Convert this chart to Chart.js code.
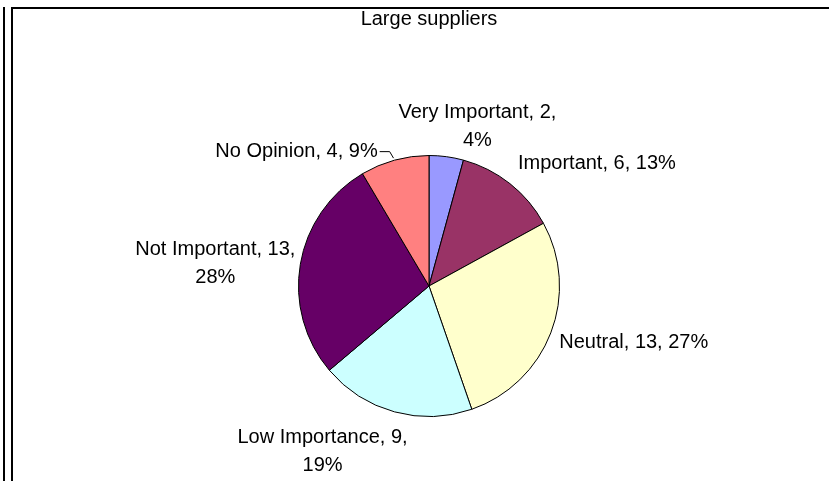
<!DOCTYPE html>
<html>
<head>
<meta charset="utf-8">
<script src="https://cdn.jsdelivr.net/npm/chart.js@4/dist/chart.umd.min.js"></script>
<style>
  html, body { margin: 0; padding: 0; background: #fff; overflow: hidden; }
  #wrap { position: relative; width: 829px; height: 481px; }
  #outer { position: absolute; left: 3px; top: 7px; width: 2px; height: 480px; background: #000; }
  #frame { position: absolute; left: 11px; top: 7px; width: 900px; height: 600px; border: 2px solid #000; box-sizing: border-box; }
  canvas { position: absolute; left: 0; top: 0; }
</style>
</head>
<body>
<div id="wrap">
  <div id="outer"></div>
  <div id="frame"></div>
  <canvas id="c" width="829" height="481"></canvas>
</div>
<script>
// ---- data ----
const title = "Large suppliers";
const categories = ["Very Important", "Important", "Neutral", "Low Importance", "Not Important", "No Opinion"];
const counts = [2, 6, 13, 9, 13, 4];
const percentLabels = ["4%", "13%", "27%", "19%", "28%", "9%"];
const colors = ["#9999FF", "#993366", "#FFFFCC", "#CCFFFF", "#660066", "#FF8080"];

// label layout (offset of first-line baseline centre from the arc's mid-point on its rim)
const labelLines = [
  ["Very Important, 2,", "4%"],
  ["Important, 6, 13%"],
  ["Neutral, 13, 27%"],
  ["Low Importance, 9,", "19%"],
  ["Not Important, 13,", "28%"],
  ["No Opinion, 4, 9%"]
];
const labelOffsets = [[31, -39], [87, -15], [83, 15], [-72, 31], [-85, -9], [-98, -3]];
const leaderFor = [false, false, false, false, false, true];

const FONT = '20px "Liberation Sans", Arial, sans-serif';
const LINE_H = 28;

const labelPlugin = {
  id: 'pieLabels',
  afterDatasetsDraw(chart) {
    const ctx = chart.ctx;
    const meta = chart.getDatasetMeta(0);
    ctx.save();
    ctx.font = FONT;
    ctx.fillStyle = '#000';
    ctx.textAlign = 'center';
    ctx.textBaseline = 'alphabetic';
    meta.data.forEach((arc, i) => {
      const p = arc.getProps(['x', 'y', 'startAngle', 'endAngle', 'outerRadius'], true);
      const mid = (p.startAngle + p.endAngle) / 2;
      const ax = p.x + Math.cos(mid) * p.outerRadius;
      const ay = p.y + Math.sin(mid) * p.outerRadius;
      const bx = ax + labelOffsets[i][0];
      const by = ay + labelOffsets[i][1];
      labelLines[i].forEach((line, k) => {
        ctx.fillText(line, bx, by + k * LINE_H);
      });
      if (leaderFor[i]) {
        const w = ctx.measureText(labelLines[i][0]).width;
        const sx = bx + w / 2 + 2;
        const sy = by - 6;
        ctx.strokeStyle = '#000';
        ctx.lineWidth = 1;
        ctx.beginPath();
        ctx.moveTo(sx, sy + 0.5);
        ctx.lineTo(sx + 10, sy + 0.5);
        ctx.lineTo(ax - 1, ay - 2);
        ctx.stroke();
      }
    });
    ctx.restore();
  }
};

const titlePlugin = {
  id: 'titleText',
  afterDraw(chart) {
    const ctx = chart.ctx;
    const meta = chart.getDatasetMeta(0);
    const cx = meta.data[0].x;
    ctx.save();
    ctx.font = FONT;
    ctx.fillStyle = '#000';
    ctx.textAlign = 'center';
    ctx.textBaseline = 'alphabetic';
    ctx.fillText(title, cx, 25);
    ctx.restore();
  }
};

new Chart(document.getElementById('c'), {
  type: 'pie',
  data: {
    labels: categories,
    datasets: [{
      data: counts,
      backgroundColor: colors,
      borderColor: '#000',
      borderWidth: 1
    }]
  },
  options: {
    responsive: false,
    animation: false,
    layout: { padding: { left: 298, right: 269, top: 155, bottom: 64 } },
    plugins: {
      legend: { display: false },
      tooltip: { enabled: false },
      title: { display: false }
    }
  },
  plugins: [labelPlugin, titlePlugin]
});
</script>
</body>
</html>
